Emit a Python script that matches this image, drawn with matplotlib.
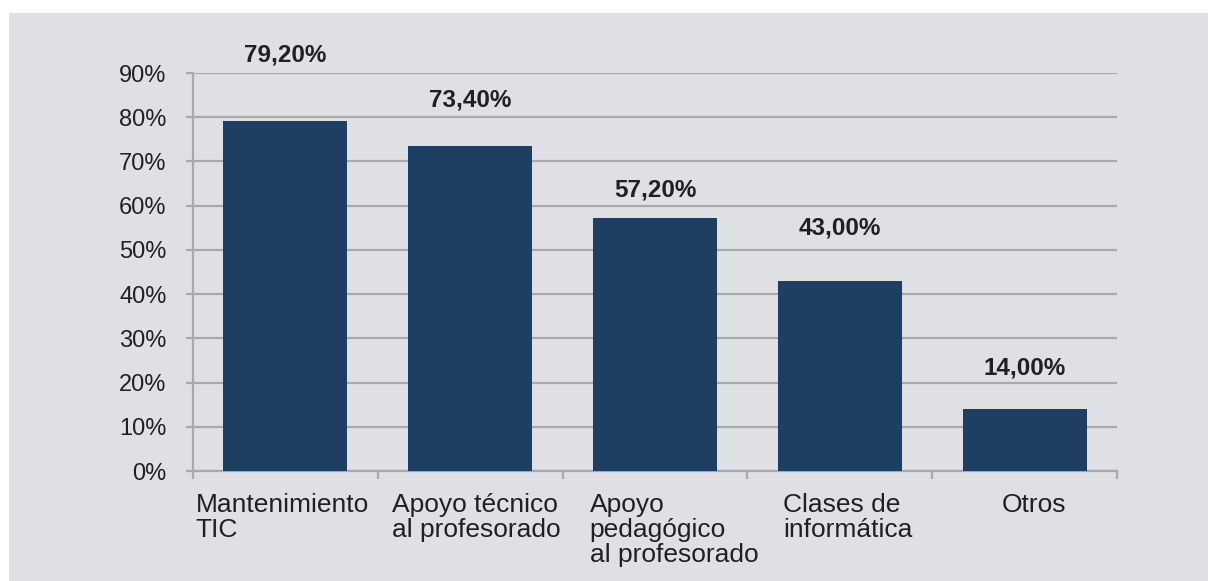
import matplotlib.pyplot as plt
import matplotlib.patches as mpatches
import matplotlib.transforms as mtransforms
import numpy as np

categories = ["Mantenimiento\nTIC", "Apoyo técnico\nal profesorado",
              "Apoyo\npedagógico\nal profesorado", "Clases de\ninformática", "Otros"]
values = [79.2, 73.4, 57.2, 43.0, 14.0]
value_labels = ["79,20%", "73,40%", "57,20%", "43,00%", "14,00%"]
# how far above each bar its label sits (pixels), as in the original
label_gaps = [66, 46, 28, 53, 41]
# small horizontal nudges of the category labels (pixels)
cat_shift = [-3, 6, 19, 8, 9]
y_ticks = [0, 10, 20, 30, 40, 50, 60, 70, 80, 90]

BG = "#dfe0e5"
BAR = "#1d3f63"
GRID = "#a9a9ad"
TXT = "#231f20"

plt.rcParams['font.family'] = ['Liberation Sans', 'DejaVu Sans']

fig = plt.figure(figsize=(12.08, 5.81), dpi=100)
fig.patch.set_facecolor("white")
fig.patches.append(mpatches.Rectangle((9 / 1208, 0), 1 - 9 / 1208, 1 - 13 / 581,
                                      transform=fig.transFigure, facecolor=BG,
                                      edgecolor="none", zorder=-10))

ax = fig.add_axes([193 / 1208, 1 - 471 / 581, (1117 - 193) / 1208, (471 - 73) / 581])
ax.set_facecolor("none")

x = np.arange(len(categories))
ax.bar(x, values, width=0.67, color=BAR, zorder=3)

ax.set_xlim(-0.5, len(categories) - 0.5)
ax.set_ylim(0, 90)
ax.set_yticks(y_ticks)
ax.set_yticklabels([f"{t}%" for t in y_ticks])
ax.yaxis.grid(True, color=GRID, linewidth=1.6, zorder=0)
ax.tick_params(axis="y", length=5, width=1.6, color=GRID, labelsize=17,
               labelcolor=TXT, pad=14)

# category labels centred in slots, ticks on slot boundaries
ax.set_xticks(x)
ax.set_xticklabels(categories, fontsize=19, color=TXT, ha="center",
                   multialignment="left", va="top", linespacing=1.05)
ax.tick_params(axis="x", length=0, pad=16)
ax.set_xticks(np.arange(len(categories) + 1) - 0.5, minor=True)
ax.tick_params(axis="x", which="minor", length=5.5, width=1.6, color=GRID)

for lbl, dx in zip(ax.get_xticklabels(), cat_shift):
    lbl.set_transform(lbl.get_transform() +
                      mtransforms.ScaledTranslation(dx / 100, 0, fig.dpi_scale_trans))

for s in ["top", "right"]:
    ax.spines[s].set_visible(False)
for s in ["left", "bottom"]:
    ax.spines[s].set_color(GRID)
    ax.spines[s].set_linewidth(1.6)

for xi, v, lab, gap in zip(x, values, value_labels, label_gaps):
    ax.annotate(lab, (xi, v), xytext=(0, gap), textcoords="offset pixels",
                ha="center", va="center", fontsize=17.5, fontweight="bold",
                color=TXT, annotation_clip=False)

fig.savefig("out.png", dpi=100, facecolor=fig.get_facecolor())
